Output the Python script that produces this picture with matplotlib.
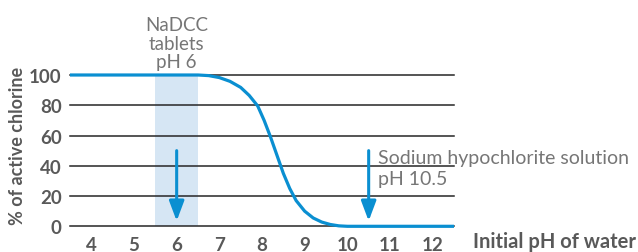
import matplotlib
matplotlib.use("Agg")
import matplotlib.pyplot as plt

# Data
ph = [3.5, 6.5, 6.75, 7.0, 7.25, 7.5, 7.7, 7.9, 8.05, 8.2, 8.35, 8.5, 8.65,
      8.8, 9.0, 9.2, 9.4, 9.6, 9.8, 10.0, 12.5]
active = [100, 100, 99.6, 98.3, 95.8, 91.8, 86.5, 79.5, 70, 59, 47, 35, 25,
          17, 10, 5.5, 2.8, 1.2, 0.3, 0, 0]
x_ticks = [4, 5, 6, 7, 8, 9, 10, 11, 12]
y_ticks = [0, 20, 40, 60, 80, 100]
band = (5.5, 6.5)
arrow_x = [6, 10.5]
arrow_from, arrow_to = 50, 3.5

BLUE = "#0a8fd1"
BAND = "#d6e6f4"
GRAY_BOLD = "#595959"
GRAY_LIGHT = "#767676"

plt.rcParams['font.family'] = ['Lato', 'DejaVu Sans']

fig = plt.figure(figsize=(6.38, 2.53), dpi=100)
ax = fig.add_axes([70/638, 1-227.3/253, 384/638, (227.3-76)/253])
ax.set_xlim(3.5, 12.5)
ax.set_ylim(0, 100)

ax.axvspan(*band, color=BAND, lw=0, zorder=0)
for yv in y_ticks:
    ax.axhline(yv, color="#262626", lw=1.1, zorder=1, clip_on=False)
ax.plot(ph, active, color=BLUE, lw=2.3, zorder=3, clip_on=False,
        solid_capstyle='butt', solid_joinstyle='round')

for xa in arrow_x:
    ax.annotate("", xy=(xa, arrow_to), xytext=(xa, arrow_from),
                arrowprops=dict(arrowstyle='-|>,head_length=1.2,head_width=0.45',
                                mutation_scale=10, color=BLUE, lw=2.2,
                                shrinkA=0, shrinkB=0), zorder=4)

for s in ax.spines.values():
    s.set_visible(False)
ax.set_xticks(x_ticks)
ax.set_yticks(y_ticks)
ax.tick_params(length=0, labelsize=13.5, labelcolor=GRAY_BOLD)
ax.tick_params(axis='x', pad=7)
ax.tick_params(axis='y', pad=6)
for lab in ax.get_xticklabels() + ax.get_yticklabels():
    lab.set_fontweight('bold')

ax.text(6, 105.3, "NaDCC\ntablets\npH 6", ha='center', va='baseline',
        fontsize=13.5, color=GRAY_LIGHT, linespacing=1.1, clip_on=False)
ax.text(10.72, 28, "Sodium hypochlorite solution\npH 10.5", ha='left',
        va='baseline', fontsize=14, color=GRAY_LIGHT,
        linespacing=1.3, clip_on=False)

fig.text(18/638, 1-146/253, "% of active chlorine", rotation=90, ha='center',
         va='center', fontsize=13, fontweight='bold', color=GRAY_BOLD)
fig.text(636/638, 1-242/253, "Initial pH of water", ha='right', va='center',
         fontsize=14.5, fontweight='bold', color=GRAY_BOLD)

fig.savefig("out.png", dpi=100)
